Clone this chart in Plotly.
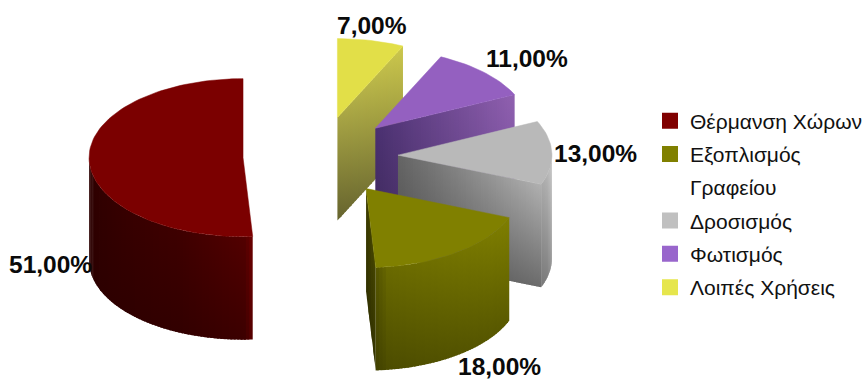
import math
import plotly.graph_objects as go

W, H = 863, 381

categories = ["Θέρμανση Χώρων", "Εξοπλισμός", "Δροσισμός", "Φωτισμός", "Λοιπές Χρήσεις"]
category_second_line = {1: "Γραφείου"}
values = [51, 18, 13, 11, 7]
top_colors = ["#7b0000", "#808000", "#b9b9b9", "#9460c0", "#e2df48"]
legend_colors = ["#800000", "#808000", "#c0c0c0", "#9966cc", "#e6e64c"]
label_pos = [(50, 264), (499, 366), (595, 153), (527, 58), (372, 25)]

# Pie geometry in pixels
CX, CY = 320.5, 156.4
RX, RY = 154.0, 79.0
EXPLODE = 77.5
DEPTH = 103.0

# Shading stops for each slice: (u, colour at top edge, colour at bottom edge)
radial_shade = [
    None,
    [(0, "#3c3c00", "#303000"), (1, "#454500", "#343400")],
    [(0, "#646464", "#505050"), (1, "#b0b0b0", "#6c6c6c")],
    [(0, "#4a3070", "#3e2a5c"), (1, "#9060b0", "#7a52a0")],
    [(0, "#a8a545", "#66642e"), (1, "#ccc84c", "#8f8c3c")],
]
outer_shade = [
    [(0, "#6e0000", "#5c0000"), (0.03, "#520000", "#3c0000"), (0.3, "#3e0000", "#320000"), (1, "#2a0000", "#2a0000")],
    [(0, "#7e7e00", "#5a5a00"), (0.93, "#6a6a00", "#4c4c00"), (1, "#545400", "#404000")],
    [(0, "#cacaca", "#909090"), (1, "#a8a8a8", "#787878")],
    None,
    None,
]


def rgb(hex_code):
    return tuple(int(hex_code[i:i + 2], 16) for i in (1, 3, 5))


def blend(c0, c1, f):
    return tuple(a + (b - a) * f for a, b in zip(rgb(c0), rgb(c1)))


def css(channels):
    return "rgb(%d,%d,%d)" % tuple(round(c) for c in channels)


def column_colours(stops, u):
    for (u0, t0, b0), (u1, t1, b1) in zip(stops, stops[1:]):
        if u <= u1:
            break
    f = (u - u0) / (u1 - u0)
    return css(blend(t0, t1, f)), css(blend(b0, b1, f))


def add_wall(fig, rim, stops, columns):
    """Extrude the path rim(u) downward as narrow columns with a vertical gradient."""
    for i in range(columns):
        u0 = i / columns
        # Each column runs slightly under the next one so no seam shows
        u1 = min(1.0, (i + 1.6) / columns)
        (x0, y0), (x1, y1) = rim(u0), rim(u1)
        top, bottom = column_colours(stops, (i + 0.5) / columns)
        y_mid = (y0 + y1) / 2
        fig.add_trace(go.Scatter(
            x=[x0, x1, x1, x0, x0],
            y=[y0, y1, y1 + DEPTH, y0 + DEPTH, y0],
            mode="none", fill="toself",
            fillgradient=dict(type="vertical", colorscale=[[0, top], [1, bottom]],
                              start=y_mid, stop=y_mid + DEPTH),
            hoverinfo="skip", showlegend=False,
        ))


fig = go.Figure()

# Slices run clockwise from twelve o'clock, last category first
angles = {}
start = 0.0
for idx in reversed(range(len(values))):
    angles[idx] = (start, start + values[idx] * 3.6)
    start += values[idx] * 3.6


def rim_point(ax, ay, deg):
    t = math.radians(deg)
    return ax + RX * math.sin(t), ay - RY * math.cos(t)


def radial_path(ax, ay, deg):
    ex, ey = rim_point(ax, ay, deg)
    return lambda u: (ax + (ex - ax) * u, ay + (ey - ay) * u)


def arc_path(ax, ay, lo, hi):
    return lambda u: rim_point(ax, ay, lo + (hi - lo) * u)


for idx in reversed(range(len(values))):
    a0, a1 = angles[idx]
    mid = math.radians((a0 + a1) / 2)
    ax = CX + EXPLODE * math.sin(mid)
    ay = CY - EXPLODE * RY / RX * math.cos(mid)

    # Radial wall at the trailing edge
    if radial_shade[idx]:
        width = abs(rim_point(ax, ay, a1)[0] - ax)
        add_wall(fig, radial_path(ax, ay, a1), radial_shade[idx], max(4, int(width / 2.5)))

    # Curved outer wall, front half only
    lo, hi = max(a0, 90.0), min(a1, 270.0)
    if outer_shade[idx] and hi > lo:
        add_wall(fig, arc_path(ax, ay, lo, hi), outer_shade[idx], max(8, int((hi - lo) * 0.8)))

    # Top face
    steps = max(4, int((a1 - a0) / 2))
    rim_pts = [rim_point(ax, ay, a0 + (a1 - a0) * k / steps) for k in range(steps + 1)]
    fig.add_trace(go.Scatter(
        x=[ax] + [p[0] for p in rim_pts] + [ax],
        y=[ay] + [p[1] for p in rim_pts] + [ay],
        mode="lines", fill="toself", fillcolor=top_colors[idx],
        line=dict(color=top_colors[idx], width=0.5), hoverinfo="skip", showlegend=False,
    ))

# Legend rows; a wrapped name continues on a row of its own without a swatch
for idx, (name, colour) in enumerate(zip(categories, legend_colors)):
    fig.add_trace(go.Scatter(
        x=[None], y=[None], mode="markers", name=name, legendgroup=name,
        marker=dict(symbol="square", size=16, color=colour),
    ))
    if idx in category_second_line:
        fig.add_trace(go.Scatter(
            x=[None], y=[None], mode="markers", name=category_second_line[idx],
            legendgroup=category_second_line[idx],
            marker=dict(symbol="square", size=16, color="rgba(0,0,0,0)"),
        ))

annotations = [
    dict(x=px, y=py, xref="x", yref="y", text=f"<b>{v:.2f}%</b>".replace(".", ","),
         showarrow=False, borderpad=0, font=dict(family="Liberation Sans", size=24.5, color="#0a0a0a"))
    for v, (px, py) in zip(values, label_pos)
]

fig.update_layout(
    width=W, height=H,
    margin=dict(l=0, r=0, t=0, b=0, autoexpand=False),
    paper_bgcolor="white", plot_bgcolor="white",
    xaxis=dict(range=[0, W], visible=False, fixedrange=True),
    yaxis=dict(range=[H, 0], visible=False, fixedrange=True),
    annotations=annotations,
    legend=dict(
        x=650 / W, xref="paper", y=1 - 204 / H, yref="paper", xanchor="left", yanchor="middle",
        font=dict(family="Liberation Sans", size=21, color="#111111"),
        tracegroupgap=3, itemwidth=30, bgcolor="rgba(0,0,0,0)",
    ),
)

fig.write_html("out.html")
